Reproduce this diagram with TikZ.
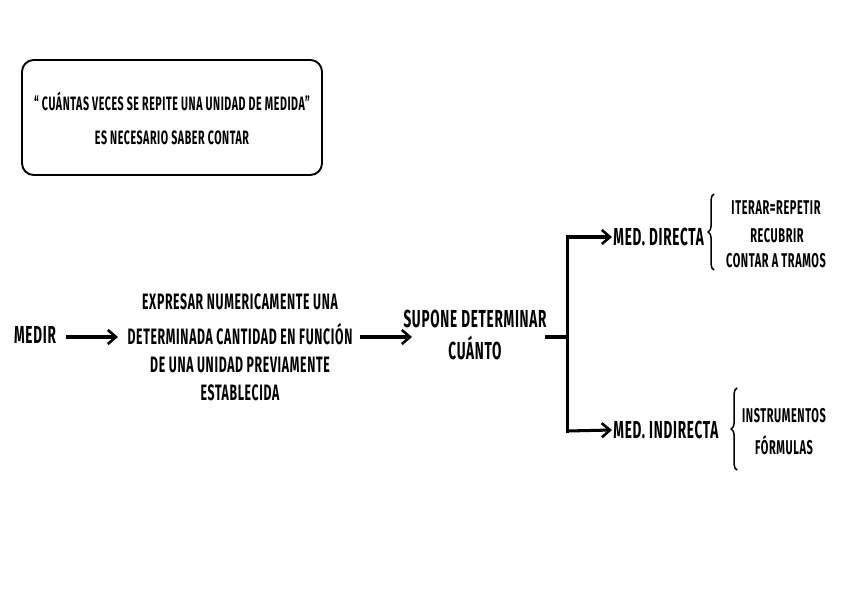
\documentclass[tikz,border=0pt]{standalone}
\usepackage{fontspec}
\setmainfont{Fira Sans}[FakeStretch=0.55,LetterSpace=3]
\usetikzlibrary{arrows.meta,decorations.pathreplacing}
\begin{document}
\begin{tikzpicture}[x=0.03cm,y=-0.03cm,
  txt/.style={font=\bfseries\fontsize{21}{23}\selectfont, inner sep=1pt, align=center},
  mid/.style={font=\bfseries\fontsize{19}{21}\selectfont, inner sep=1pt, align=center},
  rgt/.style={font=\bfseries\fontsize{17}{19}\selectfont, inner sep=1pt, align=center},
  small/.style={font=\bfseries\fontsize{16.5}{18}\selectfont, inner sep=1pt, align=center},
  arr/.style={line width=2.6pt, -{Straight Barb[length=7pt,width=12pt,line width=2.2pt]}},
  ln/.style={line width=2.6pt},
  brc/.style={line width=1.3pt, decorate, decoration={brace, amplitude=5pt}}]
\useasboundingbox (0,0) rectangle (848,600);
\node[draw, line width=1.6pt, rounded corners=10pt, minimum width=300*0.03cm, minimum height=115*0.03cm] (box) at (172,117.5) {};
\node[small] (q) at (172,101) {“ CUÁNTAS VECES SE REPITE UNA UNIDAD DE MEDIDA”};
\node[small] (c) at (172,138) {ES NECESARIO SABER CONTAR};
\node[txt] (medir) at (35,335) {MEDIR};
\node[mid] (e1t) at (240,302) {EXPRESAR NUMERICAMENTE UNA};
\node[mid] (e2t) at (240,334) {DETERMINADA CANTIDAD EN FUNCIÓN};
\node[mid] (e3t) at (240,365) {DE UNA UNIDAD PREVIAMENTE};
\node[mid] (e4t) at (240,393) {ESTABLECIDA};
\node[txt] (sup) at (475,319) {SUPONE DETERMINAR};
\node[txt] (sup2) at (475,348) {CUÁNTO};
\coordinate (s0) at (545,337);
\coordinate (j) at (567.5,337);
\coordinate (jt) at (567.5,237);
\coordinate (jb) at (567.5,431);
\node[txt, anchor=west] (dir) at (612,237) {MED. DIRECTA};
\node[txt, anchor=west] (ind) at (612,430) {MED. INDIRECTA};
\node[rgt] (d1) at (776,208) {ITERAR=REPETIR};
\node[rgt] (d2) at (777,236) {RECUBRIR};
\node[rgt] (d3) at (776,261) {CONTAR A TRAMOS};
\node[rgt] (i1) at (784,416) {INSTRUMENTOS};
\node[rgt] (i2) at (784,445) {FÓRMULAS};
\coordinate (m1) at (66,337); \coordinate (m2) at (118,337);
\coordinate (f1) at (360,337); \coordinate (f2) at (412,337);
\draw[arr] (m1) -- (m2);
\draw[arr] (f1) -- (f2);
\draw[ln] (s0) -- (j);
\draw[ln, line cap=rect] (jt) -- (jb);
\draw[arr] (jt) -- (dir.west);
\draw[arr] (jb) -- (ind.west);
\draw[brc] (714,270) -- (714,194);
\draw[brc] (737,470) -- (737,388);
\end{tikzpicture}
\end{document}
